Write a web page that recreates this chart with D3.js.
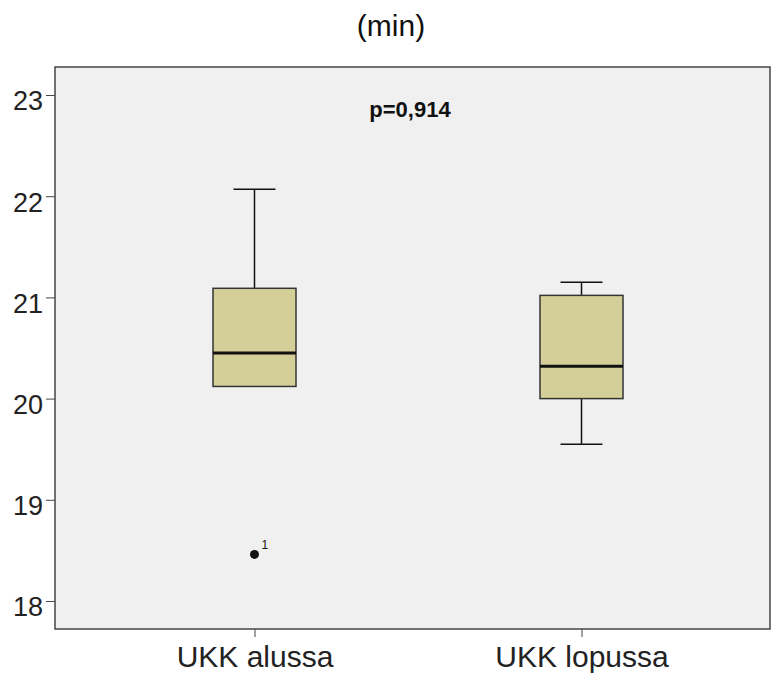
<!DOCTYPE html>
<html>
<head>
<meta charset="utf-8">
<script src="https://cdn.jsdelivr.net/npm/d3@7"></script>
<style>
  body { margin: 0; background: #fff; }
  text { font-family: "Liberation Sans", Arial, sans-serif; }
</style>
</head>
<body>
<svg id="chart" width="773" height="677"></svg>
<script>
// data
const groups = ["UKK alussa", "UKK lopussa"];
const whiskerLow  = [20.12, 19.55];
const q1          = [20.12, 20.00];
const median      = [20.45, 20.32];
const q3          = [21.09, 21.02];
const whiskerHigh = [22.07, 21.15];
const outliers    = [{group: "UKK alussa", value: 18.46, label: "1"}];
const yTicks = [18, 19, 20, 21, 22, 23];

const svg = d3.select("#chart");
const margin = {top: 67, right: 3, bottom: 48, left: 55};
const W = 773, H = 677;

// group centres sit a bit left of an even split in the reference
const xPos = d3.scaleOrdinal().domain(groups).range([254.5, 581.5]);

const y = d3.scaleLinear()
  .domain([17.723, 23.277])
  .range([H - margin.bottom, margin.top]);

// plot background
svg.append("rect")
  .attr("x", margin.left).attr("y", margin.top)
  .attr("width", W - margin.right - margin.left)
  .attr("height", H - margin.bottom - margin.top)
  .attr("fill", "#f0f0f0")
  .attr("stroke", "#444").attr("stroke-width", 1.5);

// title
svg.append("text")
  .attr("x", 391).attr("y", 36)
  .attr("text-anchor", "middle")
  .attr("font-size", 30)
  .attr("fill", "#111")
  .text("(min)");

svg.append("text")
  .attr("x", 410).attr("y", 117)
  .attr("text-anchor", "middle")
  .attr("font-size", 22).attr("font-weight", "bold")
  .attr("fill", "#111")
  .text("p=0,914");

// y axis
const yAxis = svg.append("g")
  .attr("transform", `translate(${margin.left},0)`)
  .call(d3.axisLeft(y).tickValues(yTicks).tickSize(9).tickPadding(3).tickFormat(d3.format("d")));
yAxis.select(".domain").remove();
yAxis.selectAll("line").attr("stroke", "#444");
yAxis.selectAll("text").attr("font-size", 27).attr("fill", "#222")
  .attr("dy", "0.55em")
  .attr("font-family", "Liberation Sans, Arial, sans-serif");

// x axis
const xAxis = svg.append("g")
  .attr("transform", `translate(0,${H - margin.bottom})`)
  .call(d3.axisBottom(xPos).tickSize(8).tickPadding(9));
xAxis.select(".domain").remove();
xAxis.selectAll("line").attr("stroke", "#444");
xAxis.selectAll("text").attr("font-size", 30).attr("fill", "#222")
  .attr("font-family", "Liberation Sans, Arial, sans-serif");

const boxW = 83, capW = 42;
const boxes = svg.append("g").selectAll("g")
  .data(groups.map((g, i) => ({g, lo: whiskerLow[i], q1: q1[i], med: median[i], q3: q3[i], hi: whiskerHigh[i]})))
  .join("g")
  .attr("transform", d => `translate(${xPos(d.g)},0)`);

// whiskers
boxes.append("line")
  .attr("y1", d => y(d.hi)).attr("y2", d => y(d.q3))
  .attr("stroke", "#111").attr("stroke-width", 1.5);
boxes.append("line")
  .attr("y1", d => y(d.q1)).attr("y2", d => y(d.lo))
  .attr("stroke", "#111").attr("stroke-width", 1.5);
boxes.append("line")
  .attr("x1", -capW / 2).attr("x2", capW / 2)
  .attr("y1", d => y(d.hi)).attr("y2", d => y(d.hi))
  .attr("stroke", "#111").attr("stroke-width", 1.5);
boxes.filter(d => d.lo < d.q1).append("line")
  .attr("x1", -capW / 2).attr("x2", capW / 2)
  .attr("y1", d => y(d.lo)).attr("y2", d => y(d.lo))
  .attr("stroke", "#111").attr("stroke-width", 1.5);

// box
boxes.append("rect")
  .attr("x", -boxW / 2).attr("width", boxW)
  .attr("y", d => y(d.q3)).attr("height", d => y(d.q1) - y(d.q3))
  .attr("fill", "#d4cf98").attr("stroke", "#333").attr("stroke-width", 1.5);

// median
boxes.append("line")
  .attr("x1", -boxW / 2).attr("x2", boxW / 2)
  .attr("y1", d => y(d.med)).attr("y2", d => y(d.med))
  .attr("stroke", "#111").attr("stroke-width", 3);

// outliers
svg.append("g").selectAll("circle")
  .data(outliers)
  .join("circle")
  .attr("cx", d => xPos(d.group)).attr("cy", d => y(d.value))
  .attr("r", 4.5).attr("fill", "#111");
svg.append("g").selectAll("text")
  .data(outliers)
  .join("text")
  .attr("x", d => xPos(d.group) + 7).attr("y", d => y(d.value) - 5)
  .attr("font-size", 12)
  .attr("fill", "#111")
  .text(d => d.label);
</script>
</body>
</html>
